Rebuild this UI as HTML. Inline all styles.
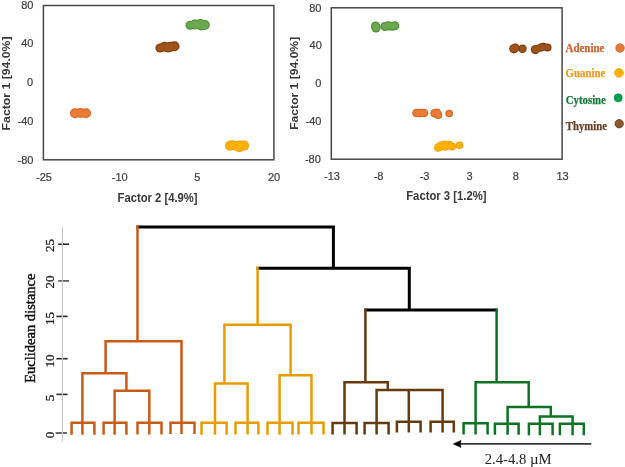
<!DOCTYPE html>
<html><head><meta charset="utf-8"><style>
html,body{margin:0;padding:0;background:#fff;width:625px;height:467px;overflow:hidden}
svg{display:block;will-change:transform}
.tk{font-family:"Liberation Sans",sans-serif;font-size:11px;fill:#3c3c3c;stroke:#3c3c3c;stroke-width:0.2}
.ti{font-family:"Liberation Sans",sans-serif;font-size:12.5px;font-weight:bold;fill:#383838}
.lg{font-family:"Liberation Serif",serif;font-size:12px;font-weight:bold;stroke-width:0.25}
.dt{font-family:"Liberation Serif",serif;font-size:13px;fill:#222;stroke:#222;stroke-width:0.3}
</style></head><body>
<svg width="625" height="467" viewBox="0 0 625 467">
<!-- chart 1 -->
<rect x="43.4" y="5.5" width="230.5" height="154.3" fill="none" stroke="#474747" stroke-width="1.5"/>
<g><circle cx="75" cy="113.3" r="5" fill="#d2651f"/><circle cx="80.5" cy="112.9" r="5" fill="#d2651f"/><circle cx="86" cy="113.3" r="5" fill="#d2651f"/><circle cx="75" cy="113.3" r="3.90" fill="#eb7b37"/><circle cx="80.5" cy="112.9" r="3.90" fill="#eb7b37"/><circle cx="86" cy="113.3" r="3.90" fill="#eb7b37"/></g><g><circle cx="230" cy="145.8" r="5" fill="#eea200"/><circle cx="232" cy="145.3" r="5" fill="#eea200"/><circle cx="236" cy="145.7" r="5" fill="#eea200"/><circle cx="239.5" cy="147.3" r="5" fill="#eea200"/><circle cx="240" cy="145.5" r="5" fill="#eea200"/><circle cx="244" cy="145.6" r="5" fill="#eea200"/><circle cx="230" cy="145.8" r="3.90" fill="#ffb000"/><circle cx="232" cy="145.3" r="3.90" fill="#ffb000"/><circle cx="236" cy="145.7" r="3.90" fill="#ffb000"/><circle cx="239.5" cy="147.3" r="3.90" fill="#ffb000"/><circle cx="240" cy="145.5" r="3.90" fill="#ffb000"/><circle cx="244" cy="145.6" r="3.90" fill="#ffb000"/></g><g><circle cx="160" cy="48" r="4.6" fill="#7a3a0c"/><circle cx="164.5" cy="46.8" r="5" fill="#7a3a0c"/><circle cx="168" cy="47.5" r="5" fill="#7a3a0c"/><circle cx="171" cy="46.8" r="5" fill="#7a3a0c"/><circle cx="174.5" cy="46.3" r="5" fill="#7a3a0c"/><circle cx="160" cy="48" r="3.50" fill="#a0541a"/><circle cx="164.5" cy="46.8" r="3.90" fill="#a0541a"/><circle cx="168" cy="47.5" r="3.90" fill="#a0541a"/><circle cx="171" cy="46.8" r="3.90" fill="#a0541a"/><circle cx="174.5" cy="46.3" r="3.90" fill="#a0541a"/></g><g><circle cx="190" cy="25.2" r="4.5" fill="#4a8a32"/><circle cx="195" cy="24.5" r="5" fill="#4a8a32"/><circle cx="200.3" cy="24" r="5" fill="#4a8a32"/><circle cx="201" cy="25.4" r="5" fill="#4a8a32"/><circle cx="204.8" cy="25" r="5" fill="#4a8a32"/><circle cx="190" cy="25.2" r="3.40" fill="#6aa84f"/><circle cx="195" cy="24.5" r="3.90" fill="#6aa84f"/><circle cx="200.3" cy="24" r="3.90" fill="#6aa84f"/><circle cx="201" cy="25.4" r="3.90" fill="#6aa84f"/><circle cx="204.8" cy="25" r="3.90" fill="#6aa84f"/></g>
<g class="tk" text-anchor="end">
<text x="33.5" y="8.9">80</text>
<text x="33.5" y="47.4">40</text>
<text x="33" y="86">0</text>
<text x="33.5" y="124.6">-40</text>
<text x="33.5" y="163.5">-80</text>
</g>
<g class="tk" text-anchor="middle">
<text x="44" y="181">-25</text>
<text x="119.7" y="181">-10</text>
<text x="197.3" y="181">5</text>
<text x="274" y="181">20</text>
</g>
<text class="ti" x="157.6" y="201.5" text-anchor="middle" textLength="80" lengthAdjust="spacingAndGlyphs">Factor 2 [4.9%]</text>
<text class="ti" style="font-size:11px" transform="translate(10,83.4) rotate(-90)" text-anchor="middle" textLength="94" lengthAdjust="spacingAndGlyphs">Factor 1 [94.0%]</text>
<!-- chart 2 -->
<rect x="331.3" y="7.8" width="230.8" height="151.4" fill="none" stroke="#474747" stroke-width="1.5"/>
<g><circle cx="375.6" cy="26" r="4.6" fill="#4a8a32"/><circle cx="376" cy="28" r="4.6" fill="#4a8a32"/><circle cx="385" cy="26.5" r="4.6" fill="#4a8a32"/><circle cx="388.5" cy="25.8" r="4.6" fill="#4a8a32"/><circle cx="392" cy="26.5" r="4.3" fill="#4a8a32"/><circle cx="394.8" cy="25.7" r="4.5" fill="#4a8a32"/><circle cx="375.6" cy="26" r="3.50" fill="#6aa84f"/><circle cx="376" cy="28" r="3.50" fill="#6aa84f"/><circle cx="385" cy="26.5" r="3.50" fill="#6aa84f"/><circle cx="388.5" cy="25.8" r="3.50" fill="#6aa84f"/><circle cx="392" cy="26.5" r="3.20" fill="#6aa84f"/><circle cx="394.8" cy="25.7" r="3.40" fill="#6aa84f"/></g><g><circle cx="513.8" cy="48.8" r="4.6" fill="#7a3a0c"/><circle cx="515.4" cy="48" r="4.4" fill="#7a3a0c"/><circle cx="522.5" cy="48.8" r="4.2" fill="#7a3a0c"/><circle cx="535.4" cy="49.6" r="4.6" fill="#7a3a0c"/><circle cx="540.6" cy="47.6" r="4.2" fill="#7a3a0c"/><circle cx="543.4" cy="46.8" r="4" fill="#7a3a0c"/><circle cx="547.5" cy="47.4" r="4" fill="#7a3a0c"/><circle cx="513.8" cy="48.8" r="3.50" fill="#a0541a"/><circle cx="515.4" cy="48" r="3.30" fill="#a0541a"/><circle cx="522.5" cy="48.8" r="3.10" fill="#a0541a"/><circle cx="535.4" cy="49.6" r="3.50" fill="#a0541a"/><circle cx="540.6" cy="47.6" r="3.10" fill="#a0541a"/><circle cx="543.4" cy="46.8" r="2.90" fill="#a0541a"/><circle cx="547.5" cy="47.4" r="2.90" fill="#a0541a"/></g><g><circle cx="416.5" cy="113" r="4.3" fill="#d2651f"/><circle cx="420" cy="113" r="4.3" fill="#d2651f"/><circle cx="424" cy="113" r="4.3" fill="#d2651f"/><circle cx="434.6" cy="113.3" r="4.3" fill="#d2651f"/><circle cx="438.2" cy="115" r="4.1" fill="#d2651f"/><circle cx="436.8" cy="112.6" r="4.1" fill="#d2651f"/><circle cx="449.2" cy="113.5" r="3.8" fill="#d2651f"/><circle cx="416.5" cy="113" r="3.20" fill="#eb7b37"/><circle cx="420" cy="113" r="3.20" fill="#eb7b37"/><circle cx="424" cy="113" r="3.20" fill="#eb7b37"/><circle cx="434.6" cy="113.3" r="3.20" fill="#eb7b37"/><circle cx="438.2" cy="115" r="3.00" fill="#eb7b37"/><circle cx="436.8" cy="112.6" r="3.00" fill="#eb7b37"/><circle cx="449.2" cy="113.5" r="2.70" fill="#eb7b37"/></g><g><circle cx="438.3" cy="147.5" r="4.3" fill="#eea200"/><circle cx="441" cy="146" r="4.5" fill="#eea200"/><circle cx="444.5" cy="145" r="4.6" fill="#eea200"/><circle cx="445" cy="146.6" r="4.2" fill="#eea200"/><circle cx="449.5" cy="145" r="4.3" fill="#eea200"/><circle cx="452" cy="146.5" r="4" fill="#eea200"/><circle cx="459.5" cy="145.2" r="3.8" fill="#eea200"/><circle cx="438.3" cy="147.5" r="3.20" fill="#ffb000"/><circle cx="441" cy="146" r="3.40" fill="#ffb000"/><circle cx="444.5" cy="145" r="3.50" fill="#ffb000"/><circle cx="445" cy="146.6" r="3.10" fill="#ffb000"/><circle cx="449.5" cy="145" r="3.20" fill="#ffb000"/><circle cx="452" cy="146.5" r="2.90" fill="#ffb000"/><circle cx="459.5" cy="145.2" r="2.70" fill="#ffb000"/></g>
<g class="tk" text-anchor="end">
<text x="321.5" y="11.6">80</text>
<text x="321.8" y="49">40</text>
<text x="321.3" y="87">0</text>
<text x="321.5" y="125">-40</text>
<text x="320.8" y="162.8">-80</text>
</g>
<g class="tk" text-anchor="middle">
<text x="332" y="179.5">-13</text>
<text x="378.6" y="179.5">-8</text>
<text x="424.6" y="179.5">-3</text>
<text x="469.6" y="179.5">3</text>
<text x="515.8" y="179.5">8</text>
<text x="562.5" y="179.5">13</text>
</g>
<text class="ti" x="446.4" y="200" text-anchor="middle" textLength="80.4" lengthAdjust="spacingAndGlyphs">Factor 3 [1.2%]</text>
<text class="ti" style="font-size:11px" transform="translate(298,83.3) rotate(-90)" text-anchor="middle" textLength="93" lengthAdjust="spacingAndGlyphs">Factor 1 [94.0%]</text>
<!-- legend -->
<text class="lg" x="565.6" y="51.7" fill="#c9602c" stroke="#c9602c" textLength="38.7" lengthAdjust="spacingAndGlyphs">Adenine</text>
<text class="lg" x="565.6" y="76.8" fill="#e99a1e" stroke="#e99a1e" textLength="39.6" lengthAdjust="spacingAndGlyphs">Guanine</text>
<text class="lg" x="565.8" y="103.8" fill="#157a3a" stroke="#157a3a" textLength="40.1" lengthAdjust="spacingAndGlyphs">Cytosine</text>
<text class="lg" x="565.8" y="130.2" fill="#654020" stroke="#654020" textLength="41.2" lengthAdjust="spacingAndGlyphs">Thymine</text>
<circle cx="620" cy="48" r="4.3" fill="#e8773a" stroke="#d06428" stroke-width="0.8"/>
<circle cx="619" cy="72.9" r="4.3" fill="#ffb000" stroke="#f0a000" stroke-width="0.8"/>
<circle cx="618.2" cy="97.8" r="4" fill="#00a050" stroke="#008a40" stroke-width="0.8"/>
<circle cx="619.2" cy="123.7" r="4.2" fill="#8b5a2b" stroke="#5a3a1a" stroke-width="0.8"/>
<!-- dendrogram axis -->
<g stroke="#2a2a2a" stroke-width="1.6">
<line x1="58.2" y1="244.2" x2="69.1" y2="244.2"/>
<line x1="58.2" y1="280.9" x2="69.1" y2="280.9" stroke="#505050"/>
<line x1="56.4" y1="316.4" x2="67.6" y2="316.4"/>
<line x1="56.4" y1="358.7" x2="67.6" y2="358.7"/>
<line x1="56.4" y1="394.4" x2="67.6" y2="394.4"/>
<line x1="55.6" y1="433" x2="66.9" y2="433" stroke="#404040"/>
</g>
<line x1="62.4" y1="227" x2="62.4" y2="441.5" stroke="#c8c8c8" stroke-width="1.2"/>
<g class="dt" text-anchor="middle">
<text transform="translate(54,245.6) rotate(-90)">25</text>
<text transform="translate(54,282) rotate(-90)">20</text>
<text transform="translate(54,318.6) rotate(-90)">15</text>
<text transform="translate(54,361) rotate(-90)">10</text>
<text transform="translate(54,398) rotate(-90)">5</text>
<text transform="translate(54,435) rotate(-90)">0</text>
</g>
<text transform="translate(35.1,328.2) rotate(-90)" text-anchor="middle" style="font-family:'Liberation Serif',serif;font-size:13.6px;fill:#111;stroke:#111;stroke-width:0.4" textLength="109.4" lengthAdjust="spacingAndGlyphs">Euclidean distance</text>
<!-- dendrogram -->
<g fill="none" stroke-width="2.5" stroke-linejoin="miter" stroke-linecap="butt">
<path stroke="#000" stroke-width="3" d="M136.5,226.9H333.4V268.3M256.5,268.3H409.3V310.1M364.5,310.1H497.5"/>
<path stroke="#c85c16" d="M71.6,434.8V422.8H94.4V434.8M82.4,422.8V434.8M103.6,434.8V422.8H126.4V434.8M114.6,422.8V434.8M137.5,434.4V422.8H161.5V434.4M149.3,422.8V434.4M170.5,434V422.8H194.5V434M181.5,422.8V434M82.4,422.8V373.3H126.4V390.7M114.6,422.8V390.7H149.3V422.8M105.6,373.3V341.3H181.5V422.8M137.5,341.3V225.4"/>
<path stroke="#e89c00" d="M201.5,434.8V422.8H226.6V434.8M215,422.8V434.8M235.5,434.6V422.8H258.4V434.6M247.6,422.8V434.6M267.5,434.8V422.8H292.5V434.8M279.6,422.8V434.8M298.5,434.6V422.8H323.5V434.6M311.5,422.8V434.6M215,422.8V383.5H247.6V422.8M224.4,383.5V324.8H290.6V375.3M279.6,422.8V375.3H311.5V422.8M257.6,324.8V266.8"/>
<path stroke="#653a0d" d="M332.6,434.5V423H356.6V434.5M344.5,423V434.5M364.6,434.5V423H388.6V434.5M376.6,423V434.5M396.9,432.6V421.8H420.6V432.6M408.8,421.8V432.6M430.6,432.6V421.8H453.8V432.6M442.6,421.8V432.6M344.5,423V382.3H387.8V389.9M376.6,423V389.9H442.6V421.8M408.8,389.9V421.8M365.4,382.3V308.6"/>
<path stroke="#0c7323" d="M463.6,434.4V423.3H487.6V434.4M475.6,423.3V434.4M494.9,434.8V423.7H518.6V434.8M507.6,423.7V434.8M528.9,435.3V423.7H552.6V435.3M539.9,423.7V435.3M559.9,435.3V423.7H583.8V435.3M572.6,423.7V435.3M475.6,423.3V382.3H528.7V407.1M507.6,423.7V407.1H550.8V416.4M539.9,423.7V416.4H572.6V423.7M496.6,382.3V308.6"/>
</g>
<!-- arrow -->
<line x1="458" y1="443.9" x2="591.3" y2="443.9" stroke="#3a3a3a" stroke-width="1.6"/>
<path d="M453.3,443.9L461,440.4L460.2,443.9L461,447.4Z" fill="#000" stroke="#000" stroke-width="0.6" stroke-linejoin="round"/>
<text x="484.7" y="464.2" style="font-family:'Liberation Serif',serif;font-size:15px;fill:#222" textLength="66.9" lengthAdjust="spacingAndGlyphs">2.4-4.8 µM</text>
</svg>
</body></html>
